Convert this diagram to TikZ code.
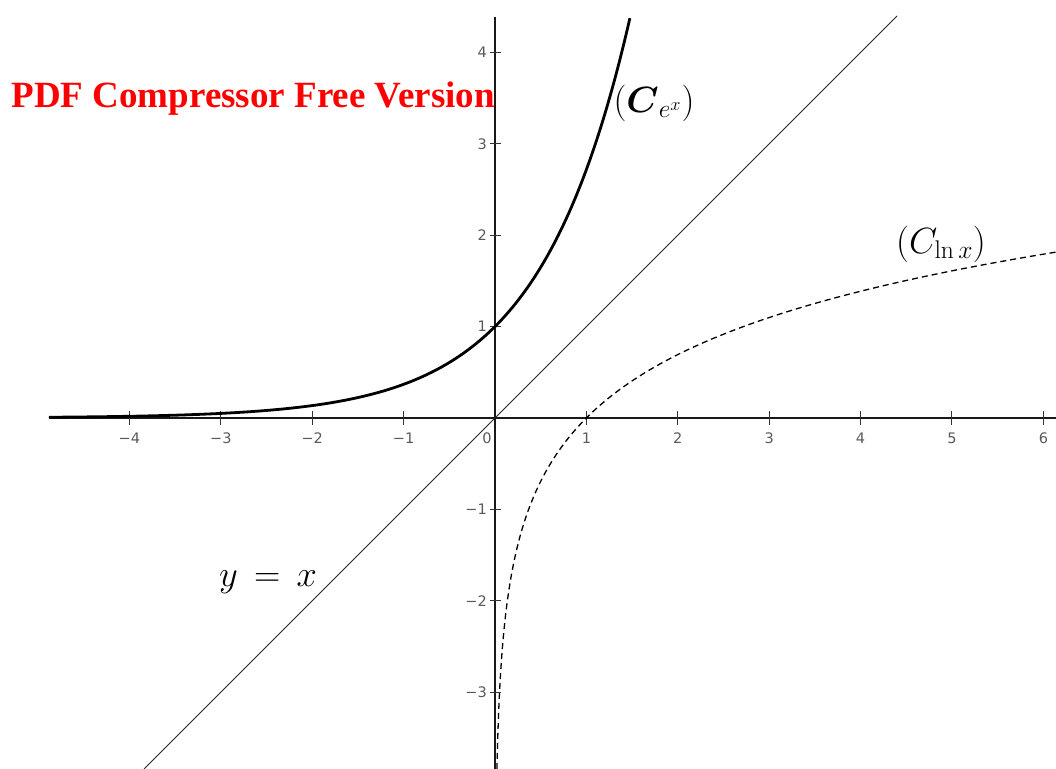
\RequirePackage{fix-cm}
\documentclass[tikz,border=0pt]{standalone}
\usepackage{amsmath}
\usepackage{fontspec}
\newfontfamily\tickfont{DejaVu Sans}
\newfontfamily\wmfont{Liberation Serif}
\definecolor{wmred}{RGB}{255,0,0}
\begin{document}
\begin{tikzpicture}[x=91.4pt,y=91.4pt,
  axisline/.style={line width=1.6pt, black!90},
  tickmark/.style={line width=1pt, black!80},
  ticklabel/.style={font=\tickfont\fontsize{14.5}{14.5}\selectfont, text=black!65, inner sep=0pt},
  expcurve/.style={line width=2.8pt, black, line join=round},
  lncurve/.style={line width=1.3pt, black, dash pattern=on 6pt off 4pt},
  idline/.style={line width=0.8pt, black!85},
  curvelabel/.style={font=\fontsize{36.5}{36.5}\selectfont, inner sep=0pt},
  watermark/.style={font=\wmfont\bfseries\fontsize{37}{37}\selectfont, text=wmred, inner sep=0pt}]
\useasboundingbox (-5.416,-3.840) rectangle (6.138,4.573);
% axes
\coordinate (xl) at (-4.88,0);
\coordinate (xr) at (6.138,0);
\coordinate (yb) at (0,-3.84);
\coordinate (yt) at (0,4.39);
\draw[axisline] (xl) -- (xr);
\draw[axisline] (yb) -- (yt);
% x ticks
\foreach \i/\t/\n in {-4/−4/m4,-3/−3/m3,-2/−2/m2,-1/−1/m1,1/1/p1,2/2/p2,3/3/p3,4/4/p4,5/5/p5,6/6/p6}{
  \draw[tickmark] ([yshift=-7pt]\i,0) -- ([yshift=7pt]\i,0);
  \node[ticklabel] (xt\n) at ([yshift=-20pt]\i,0) {\t};
}
% y ticks
\foreach \i/\t/\n in {-3/−3/m3,-2/−2/m2,-1/−1/m1,1/1/p1,2/2/p2,3/3/p3,4/4/p4}{
  \draw[tickmark] ([xshift=-5pt]0,\i) -- ([xshift=6pt]0,\i);
  \node[ticklabel,anchor=east] (yt\n) at ([xshift=-8pt]0,\i) {\t};
}
\node[ticklabel] (zero) at (-8pt,-20pt) {0};
% y = x
\coordinate (idb) at (-3.84,-3.84);
\coordinate (idt) at (4.40,4.40);
\draw[idline] (idb) -- (idt);
% exp
\draw[expcurve] plot[domain=-4.88:1.479, samples=220, smooth] (\x,{exp(\x)});
% ln
\draw[lncurve] plot[domain=-3.84:1.815, samples=220, smooth] ({exp(\x)},\x);
% labels
\node[curvelabel] (lexp) at (159pt,315pt) {$(\boldsymbol{C}_{e^{x}})$};
\node[curvelabel] (lln) at (446pt,174pt) {$(C_{\ln x})$};
\node[curvelabel] (lid) at (-227pt,-164pt) {$y\,=\,x$};
\node[watermark,anchor=base east] (wm) at (0pt,310pt) {PDF Compressor Free Version};
\end{tikzpicture}
\end{document}
